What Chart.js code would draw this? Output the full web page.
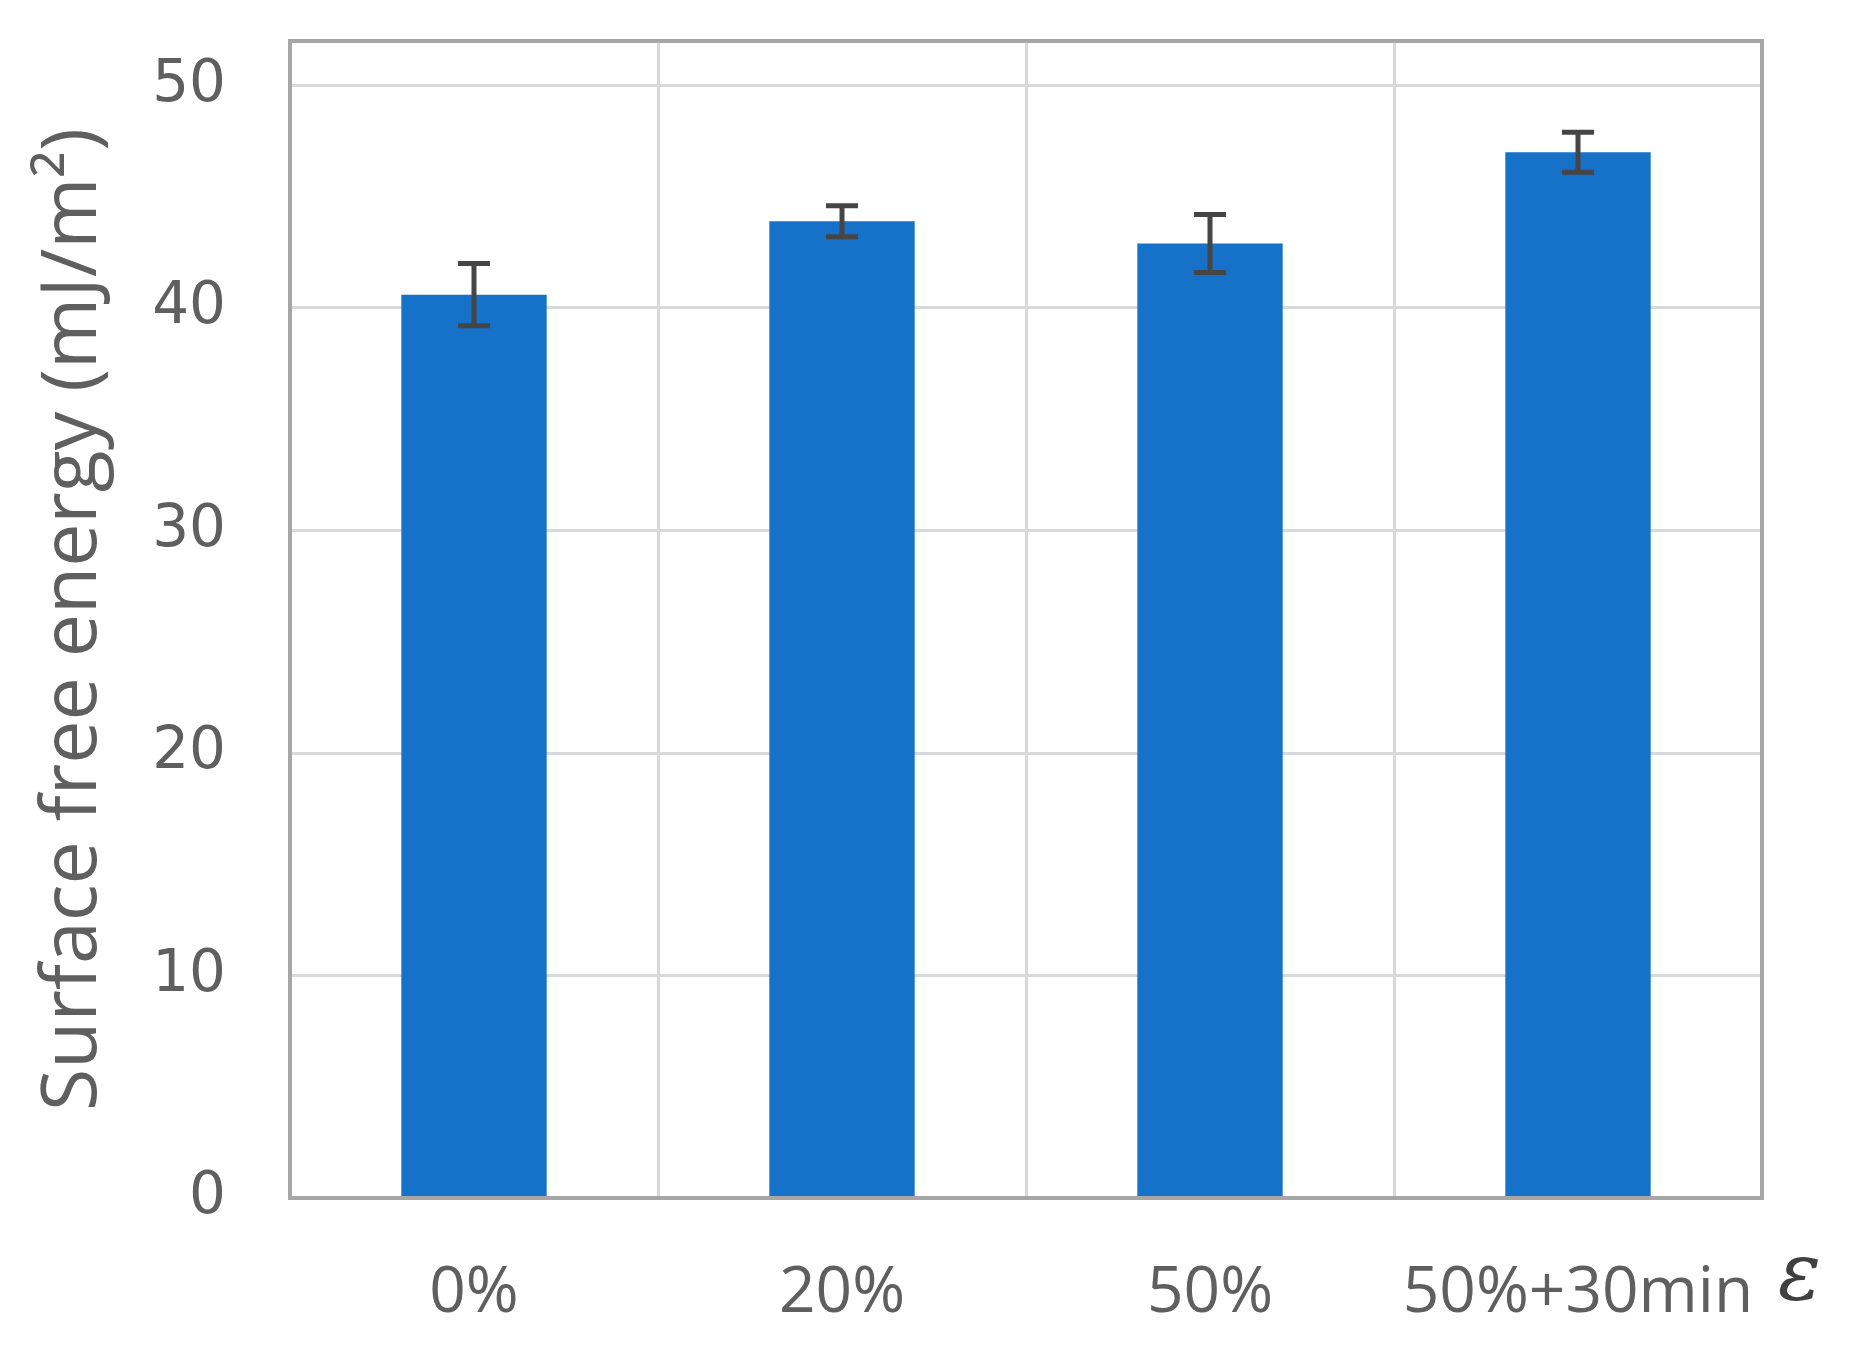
<!DOCTYPE html>
<html>
<head>
<meta charset="utf-8">
<script src="https://cdn.jsdelivr.net/npm/chart.js@4.4.1/dist/chart.umd.min.js"></script>
<style>
  html, body { margin: 0; padding: 0; background: #fff; }
  #wrap { width: 1854px; height: 1357px; position: relative; }
</style>
</head>
<body>
<div id="wrap"><canvas id="chartz"></canvas></div>
<script>
'use strict'

// data
const strainLabels = ['0%', '20%', '50%', '50%+30min'];
const energyValues = [40.6, 43.9, 42.9, 47.0];
const energyErrors = [1.4, 0.7, 1.3, 0.9];
const yTicks = [0, 10, 20, 30, 40, 50];

const barBlue = '#1672c8';
const gridGrey = '#d9d9d9';
const textGrey = '#5f5f5f';

// error bars, drawn from the scale
const errorBars = {
  id: 'errorBars',
  afterDatasetsDraw(chart) {
    const ctx = chart.ctx;
    const yScale = chart.scales.y;
    const meta = chart.getDatasetMeta(0);
    ctx.save();
    ctx.strokeStyle = '#454545';
    ctx.lineWidth = 5;
    meta.data.forEach((bar, i) => {
      const top = yScale.getPixelForValue(energyValues[i] + energyErrors[i]);
      const bot = yScale.getPixelForValue(energyValues[i] - energyErrors[i]);
      ctx.beginPath();
      ctx.moveTo(bar.x, top); ctx.lineTo(bar.x, bot);
      ctx.moveTo(bar.x - 16, top); ctx.lineTo(bar.x + 16, top);
      ctx.moveTo(bar.x - 16, bot); ctx.lineTo(bar.x + 16, bot);
      ctx.stroke();
    });
    ctx.restore();
  }
};

// box round the plot and the epsilon at the end of the x axis
const plotFrame = {
  id: 'plotFrame',
  afterDraw(chart) {
    const {ctx, chartArea} = chart;
    ctx.save();
    ctx.strokeStyle = '#a6a6a6';
    ctx.lineWidth = 4;
    ctx.strokeRect(chartArea.left, chartArea.top,
      chartArea.right - chartArea.left, chartArea.bottom - chartArea.top);
    ctx.fillStyle = '#404040';
    ctx.font = 'italic 80px "DejaVu Serif"';
    ctx.textAlign = 'left';
    ctx.textBaseline = 'middle';
    ctx.fillText('ε', chartArea.right + 16, chartArea.bottom + 80);
    ctx.restore();
  }
};

const data = {
  labels: strainLabels,
  datasets: [{
    data: energyValues,
    backgroundColor: barBlue,
    borderWidth: 0,
    barPercentage: 0.395,
    categoryPercentage: 1
  }]
};

const config = {
  type: 'bar',
  data: data,
  options: {
    responsive: true,
    maintainAspectRatio: false,
    animation: false,
    layout: { padding: { top: 41, right: 92, left: 0, bottom: 0 } },
    plugins: { legend: { display: false }, tooltip: { enabled: false } },
    scales: {
      x: {
        grid: { color: gridGrey, lineWidth: 3, drawTicks: false, offset: true },
        border: { display: false },
        ticks: {
          color: textGrey,
          padding: 57,
          font: { family: '"Open Sans"', size: 64 }
        },
        afterFit(scale) {
          scale.height = 159;
          scale.paddingLeft = 0;
          scale.paddingRight = 0;
        }
      },
      y: {
        min: 0,
        max: 52,
        afterBuildTicks(scale) { scale.ticks = yTicks.map(v => ({ value: v })); },
        grid: { color: gridGrey, lineWidth: 3, drawTicks: false },
        border: { display: false },
        ticks: {
          color: textGrey,
          padding: 64,
          font: { family: '"DejaVu Sans"', size: 58 }
        },
        title: {
          display: true,
          text: 'Surface free energy (mJ/m²)',
          color: textGrey,
          padding: { top: 28, bottom: 0 },
          font: { family: '"Open Sans"', size: 77 }
        },
        afterFit(scale) {
          scale.width = 290;
          scale.paddingTop = 0;
          scale.paddingBottom = 0;
        }
      }
    }
  },
  plugins: [errorBars, plotFrame]
};

let myChart = new Chart(document.getElementById('chartz'), config);
</script>
</body>
</html>
